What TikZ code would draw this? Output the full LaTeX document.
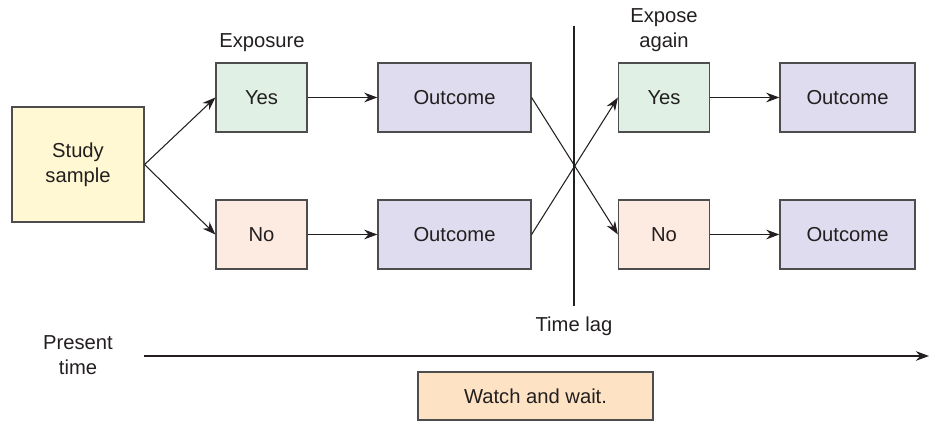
\documentclass[tikz,border=0pt]{standalone}
\usepackage{fontspec}
\setmainfont{Liberation Sans}
\usetikzlibrary{arrows.meta}
\definecolor{samplefill}{HTML}{FFF8D2}
\definecolor{yesfill}{HTML}{E0F0E5}
\definecolor{nofill}{HTML}{FDEAE0}
\definecolor{outfill}{HTML}{DEDCEE}
\definecolor{waitfill}{HTML}{FDE2C4}
\definecolor{boxline}{HTML}{4D4D4D}
\definecolor{ink}{HTML}{231F20}
\begin{document}
\begin{tikzpicture}[x = 0.02cm, y = -0.02cm, every node/.style = {text = ink, font = \fontsize{11.5}{14.2}\selectfont},
	box/.style = {draw = boxline, line width = 0.7pt, minimum width = 1.82cm, minimum height = 1.38cm},
	outbox/.style = {box, fill = outfill, minimum width = 3.06cm},
	arr/.style = {draw = ink, line width = 0.6pt, -{Stealth[length = 7.5pt, width = 5.5pt]}}]
\useasboundingbox (0,0) rectangle (929,421);
\node[box, fill = samplefill, minimum width = 2.64cm, minimum height = 2.3cm, align = center] (sample) at (78,164.5) {Study\\sample};
\node (exposure) at (262,43) {Exposure};
\node[align = center] (exposeagain) at (664,30) {Expose\\again};
% two rows: yes on top, no below
\foreach \row / \y / \ans / \col in {yes/97.5/Yes/yesfill, no/234.5/No/nofill}
{
\node[box, fill = \col] (exp\row) at (261.5,\y) {\ans};
\node[outbox] (out\row) at (454.5,\y) {Outcome};
\node[box, fill = \col] (again\row) at (664,\y) {\ans};
\node[outbox, minimum width = 2.7cm] (last\row) at (847.5,\y) {Outcome};
\draw[arr] (sample.east) -- (exp\row.west);
\draw[arr] (exp\row) -- (out\row);
\draw[arr] (again\row) -- (last\row);
}
\draw[arr] (outyes.east) -- (againno.west);
\draw[arr] (outno.east) -- (againyes.west);
% time lag
\coordinate (lagtop) at (574,26);
\coordinate (lagbot) at (574,306);
\draw[ink, line width = 0.6pt] (lagtop) -- (lagbot);
\node (lag) at (574,326) {Time lag};
% time axis
\node[align = center] (present) at (78,355) {Present\\time};
\coordinate (tstart) at (144,356);
\coordinate (tend) at (929,356);
\draw[arr] (tstart) -- (tend);
\node[box, fill = waitfill, minimum width = 4.7cm, minimum height = 0.96cm] (wait) at (535.5,396) {Watch and wait.};
\end{tikzpicture}
\end{document}
